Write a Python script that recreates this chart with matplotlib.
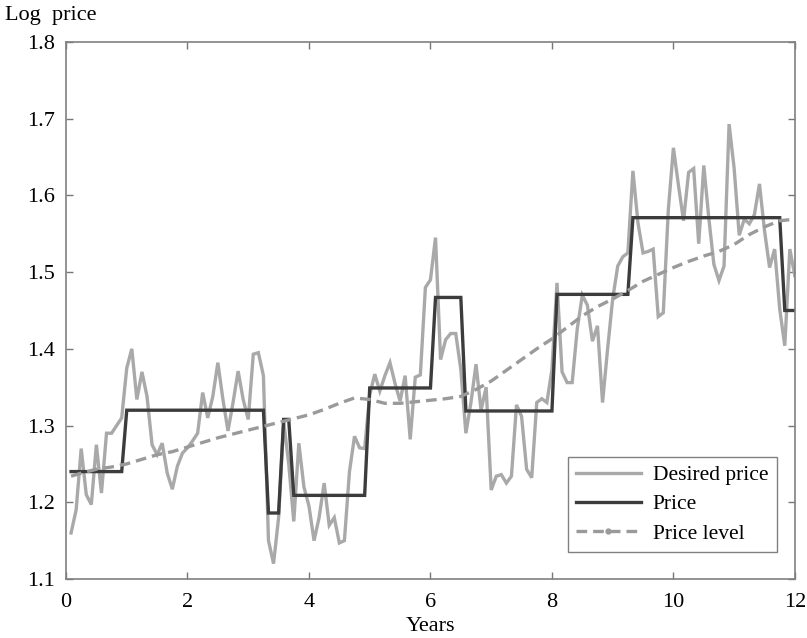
import matplotlib
matplotlib.use("Agg")
import matplotlib.pyplot as plt
from matplotlib.lines import Line2D

# ---- data ----
months = list(range(1, 145))                     # monthly observations
years = [m / 12 for m in months]

desired_price = [
    1.160, 1.190, 1.270, 1.210, 1.197, 1.275, 1.212, 1.290, 1.290, 1.300, 1.310, 1.375,
    1.400, 1.334, 1.370, 1.338, 1.275, 1.262, 1.277, 1.238, 1.217, 1.247, 1.264, 1.271,
    1.280, 1.290, 1.343, 1.310, 1.338, 1.382, 1.334, 1.293, 1.330, 1.371, 1.334, 1.308,
    1.393, 1.395, 1.365, 1.150, 1.120, 1.180, 1.305, 1.250, 1.175, 1.277, 1.220, 1.195,
    1.150, 1.180, 1.225, 1.170, 1.180, 1.147, 1.150, 1.240, 1.286, 1.271, 1.270, 1.340,
    1.367, 1.345, 1.365, 1.382, 1.355, 1.332, 1.365, 1.282, 1.363, 1.366, 1.480, 1.490,
    1.545, 1.386, 1.412, 1.420, 1.420, 1.373, 1.290, 1.330, 1.380, 1.320, 1.350, 1.216,
    1.234, 1.236, 1.225, 1.234, 1.327, 1.312, 1.243, 1.232, 1.330, 1.335, 1.330, 1.373,
    1.486, 1.370, 1.356, 1.356, 1.426, 1.470, 1.457, 1.410, 1.430, 1.330, 1.400, 1.465,
    1.508, 1.520, 1.525, 1.632, 1.564, 1.525, 1.527, 1.530, 1.442, 1.447, 1.582, 1.662,
    1.613, 1.567, 1.630, 1.635, 1.537, 1.639, 1.570, 1.510, 1.489, 1.508, 1.693, 1.635,
    1.548, 1.569, 1.563, 1.575, 1.615, 1.554, 1.506, 1.530, 1.452, 1.404, 1.530, 1.495,
]

price = [
    1.240, 1.240, 1.240, 1.240, 1.240, 1.240, 1.240, 1.240, 1.240, 1.240, 1.240, 1.320,
    1.320, 1.320, 1.320, 1.320, 1.320, 1.320, 1.320, 1.320, 1.320, 1.320, 1.320, 1.320,
    1.320, 1.320, 1.320, 1.320, 1.320, 1.320, 1.320, 1.320, 1.320, 1.320, 1.320, 1.320,
    1.320, 1.320, 1.320, 1.186, 1.186, 1.186, 1.308, 1.308, 1.209, 1.209, 1.209, 1.209,
    1.209, 1.209, 1.209, 1.209, 1.209, 1.209, 1.209, 1.209, 1.209, 1.209, 1.209, 1.349,
    1.349, 1.349, 1.349, 1.349, 1.349, 1.349, 1.349, 1.349, 1.349, 1.349, 1.349, 1.349,
    1.467, 1.467, 1.467, 1.467, 1.467, 1.467, 1.319, 1.319, 1.319, 1.319, 1.319, 1.319,
    1.319, 1.319, 1.319, 1.319, 1.319, 1.319, 1.319, 1.319, 1.319, 1.319, 1.319, 1.319,
    1.471, 1.471, 1.471, 1.471, 1.471, 1.471, 1.471, 1.471, 1.471, 1.471, 1.471, 1.471,
    1.471, 1.471, 1.471, 1.571, 1.571, 1.571, 1.571, 1.571, 1.571, 1.571, 1.571, 1.571,
    1.571, 1.571, 1.571, 1.571, 1.571, 1.571, 1.571, 1.571, 1.571, 1.571, 1.571, 1.571,
    1.571, 1.571, 1.571, 1.571, 1.571, 1.571, 1.571, 1.571, 1.571, 1.450, 1.450, 1.450,
]

level_years = [1/12, 0.25, 0.5, 0.75, 1.0, 1.25, 1.5, 1.75, 2.0, 2.25, 2.5, 2.75,
               3.0, 3.25, 3.5, 3.75, 4.0, 4.25, 4.5, 4.75, 5.0, 5.25, 5.5, 5.75,
               6.0, 6.25, 6.5, 6.75, 7.0, 7.25, 7.5, 7.75, 8.0, 8.25, 8.5, 8.75,
               9.0, 9.25, 9.5, 9.75, 10.0, 10.25, 10.5, 10.75, 11.0, 11.25, 11.5,
               11.75, 12.0]
price_level = [1.234, 1.238, 1.243, 1.246, 1.250, 1.256, 1.262, 1.266, 1.272, 1.278,
               1.284, 1.289, 1.294, 1.299, 1.304, 1.309, 1.314, 1.321, 1.329, 1.336,
               1.334, 1.329, 1.329, 1.331, 1.333, 1.335, 1.338, 1.347, 1.358, 1.372,
               1.386, 1.400, 1.413, 1.428, 1.443, 1.455, 1.465, 1.476, 1.488, 1.497,
               1.506, 1.514, 1.521, 1.527, 1.536, 1.549, 1.559, 1.567, 1.569]

x_ticks = [0, 2, 4, 6, 8, 10, 12]
y_ticks = [1.1, 1.2, 1.3, 1.4, 1.5, 1.6, 1.7, 1.8]
series_labels = ["Desired price", "Price", "Price level"]

# ---- style ----
plt.rcParams['font.family'] = ['Liberation Serif', 'DejaVu Serif']
plt.rcParams['font.size'] = 15

c_desired = '#a9a9a9'
c_price = '#3c3c3c'
c_level = '#9a9a9a'

fig = plt.figure(figsize=(8.07, 6.38), dpi=100)
ax = fig.add_axes([0.0818, 0.0925, 0.9032, 0.8417])

ax.plot(years, desired_price, color=c_desired, lw=2.4, solid_joinstyle='miter')
ax.plot(years, price, color=c_price, lw=2.4, solid_joinstyle='miter')
ax.plot(level_years, price_level, color=c_level, lw=2.4, ls=(0, (3.2, 1.8)))

ax.set_xlim(0, 12)
ax.set_ylim(1.1, 1.8)
ax.set_xticks(x_ticks)
ax.set_xticklabels([str(v) for v in x_ticks])
ax.set_yticks(y_ticks)
ax.set_yticklabels([f"{v:.1f}" for v in y_ticks])
ax.tick_params(direction='in', length=5, width=1, color='#777777',
               top=True, right=True, labelsize=16)
ax.tick_params(axis='y', pad=8)
ax.tick_params(axis='x', pad=10)
for s in ax.spines.values():
    s.set_color('#808080')
    s.set_linewidth(1.2)

ax.set_xlabel("Years", fontsize=16, labelpad=4)
fig.text(0.006, 0.975, "Log  price", fontsize=16, ha='left', va='center')

handles = [
    Line2D([], [], color=c_desired, lw=2.4),
    Line2D([], [], color=c_price, lw=2.4),
    Line2D([], [], color=c_level, lw=2.4, ls=(0, (3.2, 1.8)), marker='.',
           markersize=7),
]
leg = ax.legend(handles, series_labels, loc='lower right',
                bbox_to_anchor=(0.975, 0.05), borderaxespad=0,
                fontsize=15.5, handlelength=3.0, handletextpad=0.55,
                labelspacing=0.42, borderpad=0.4, fancybox=False,
                framealpha=1, edgecolor='#808080', markerscale=1,
                numpoints=1)
leg.get_frame().set_linewidth(1.0)

fig.savefig("out.png", dpi=100)
